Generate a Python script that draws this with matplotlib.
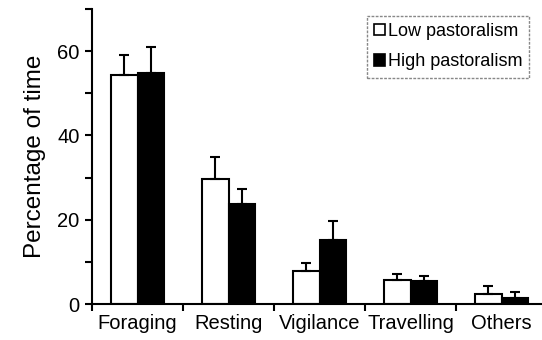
import numpy as np
import matplotlib
matplotlib.use('Agg')
from matplotlib import pyplot as plt
from matplotlib.ticker import MultipleLocator

plt.rcParams['font.family'] = ['Liberation Sans', 'DejaVu Sans']

# Data
categories = ['Foraging', 'Resting', 'Vigilance', 'Travelling', 'Others']
low_mean = [54.3, 29.7, 7.9, 5.7, 2.4]
low_err = [4.9, 5.1, 1.9, 1.4, 1.8]
high_mean = [54.8, 23.7, 15.1, 5.4, 1.5]
high_err = [6.1, 3.5, 4.7, 1.3, 1.3]

fig = plt.figure(figsize=(5.42, 3.40), dpi=100)
ax = fig.add_axes([92 / 542, 36 / 340, 1 - 92 / 542, 295 / 340])

x = np.arange(len(categories))
w = 0.29
err_kw = dict(ecolor='black', elinewidth=1.5, capsize=3.6, capthick=1.5)
ax.bar(x - w / 2, low_mean, w, yerr=[np.zeros(len(x)), low_err], color='white',
       edgecolor='black', linewidth=1.5, error_kw=err_kw, label='Low pastoralism', zorder=2)
ax.bar(x + w / 2, high_mean, w, yerr=[np.zeros(len(x)), high_err], color='black',
       edgecolor='black', linewidth=1.5, error_kw=err_kw, label='High pastoralism', zorder=2)

ax.set_ylim(0, 70)
ax.set_xlim(-0.5, 4.445)
ax.yaxis.set_major_locator(MultipleLocator(20))
ax.yaxis.set_minor_locator(MultipleLocator(10))
ax.set_xticks(np.arange(-0.5, 4.5, 1.0))
ax.set_xticklabels([])
ax.set_xticks(x, minor=True)
ax.set_xticklabels(categories, minor=True)
ax.tick_params(axis='x', which='minor', length=0, labelsize=14.5, pad=7)
ax.tick_params(axis='x', which='major', length=5, width=1.5, direction='out')
ax.tick_params(axis='y', which='both', length=5, width=1.5, direction='out', labelsize=14.5, pad=4)

for s in ['top', 'right']:
    ax.spines[s].set_visible(False)
for s in ['left', 'bottom']:
    ax.spines[s].set_linewidth(1.5)

ax.set_ylabel('Percentage of time', fontsize=17.5, labelpad=8)

leg = ax.legend(loc='upper right', bbox_to_anchor=(0.98, 0.99), fontsize=13,
                handlelength=0.6, handleheight=0.6, handletextpad=0.15,
                borderpad=0.4, labelspacing=0.75, borderaxespad=0.2,
                fancybox=False, framealpha=1)
leg.get_frame().set_edgecolor('#888888')
leg.get_frame().set_linestyle((0, (2, 1)))
leg.get_frame().set_linewidth(1.0)
for h in leg.legend_handles:
    h.set_linewidth(1.2)

fig.savefig('out.png', dpi=100)
